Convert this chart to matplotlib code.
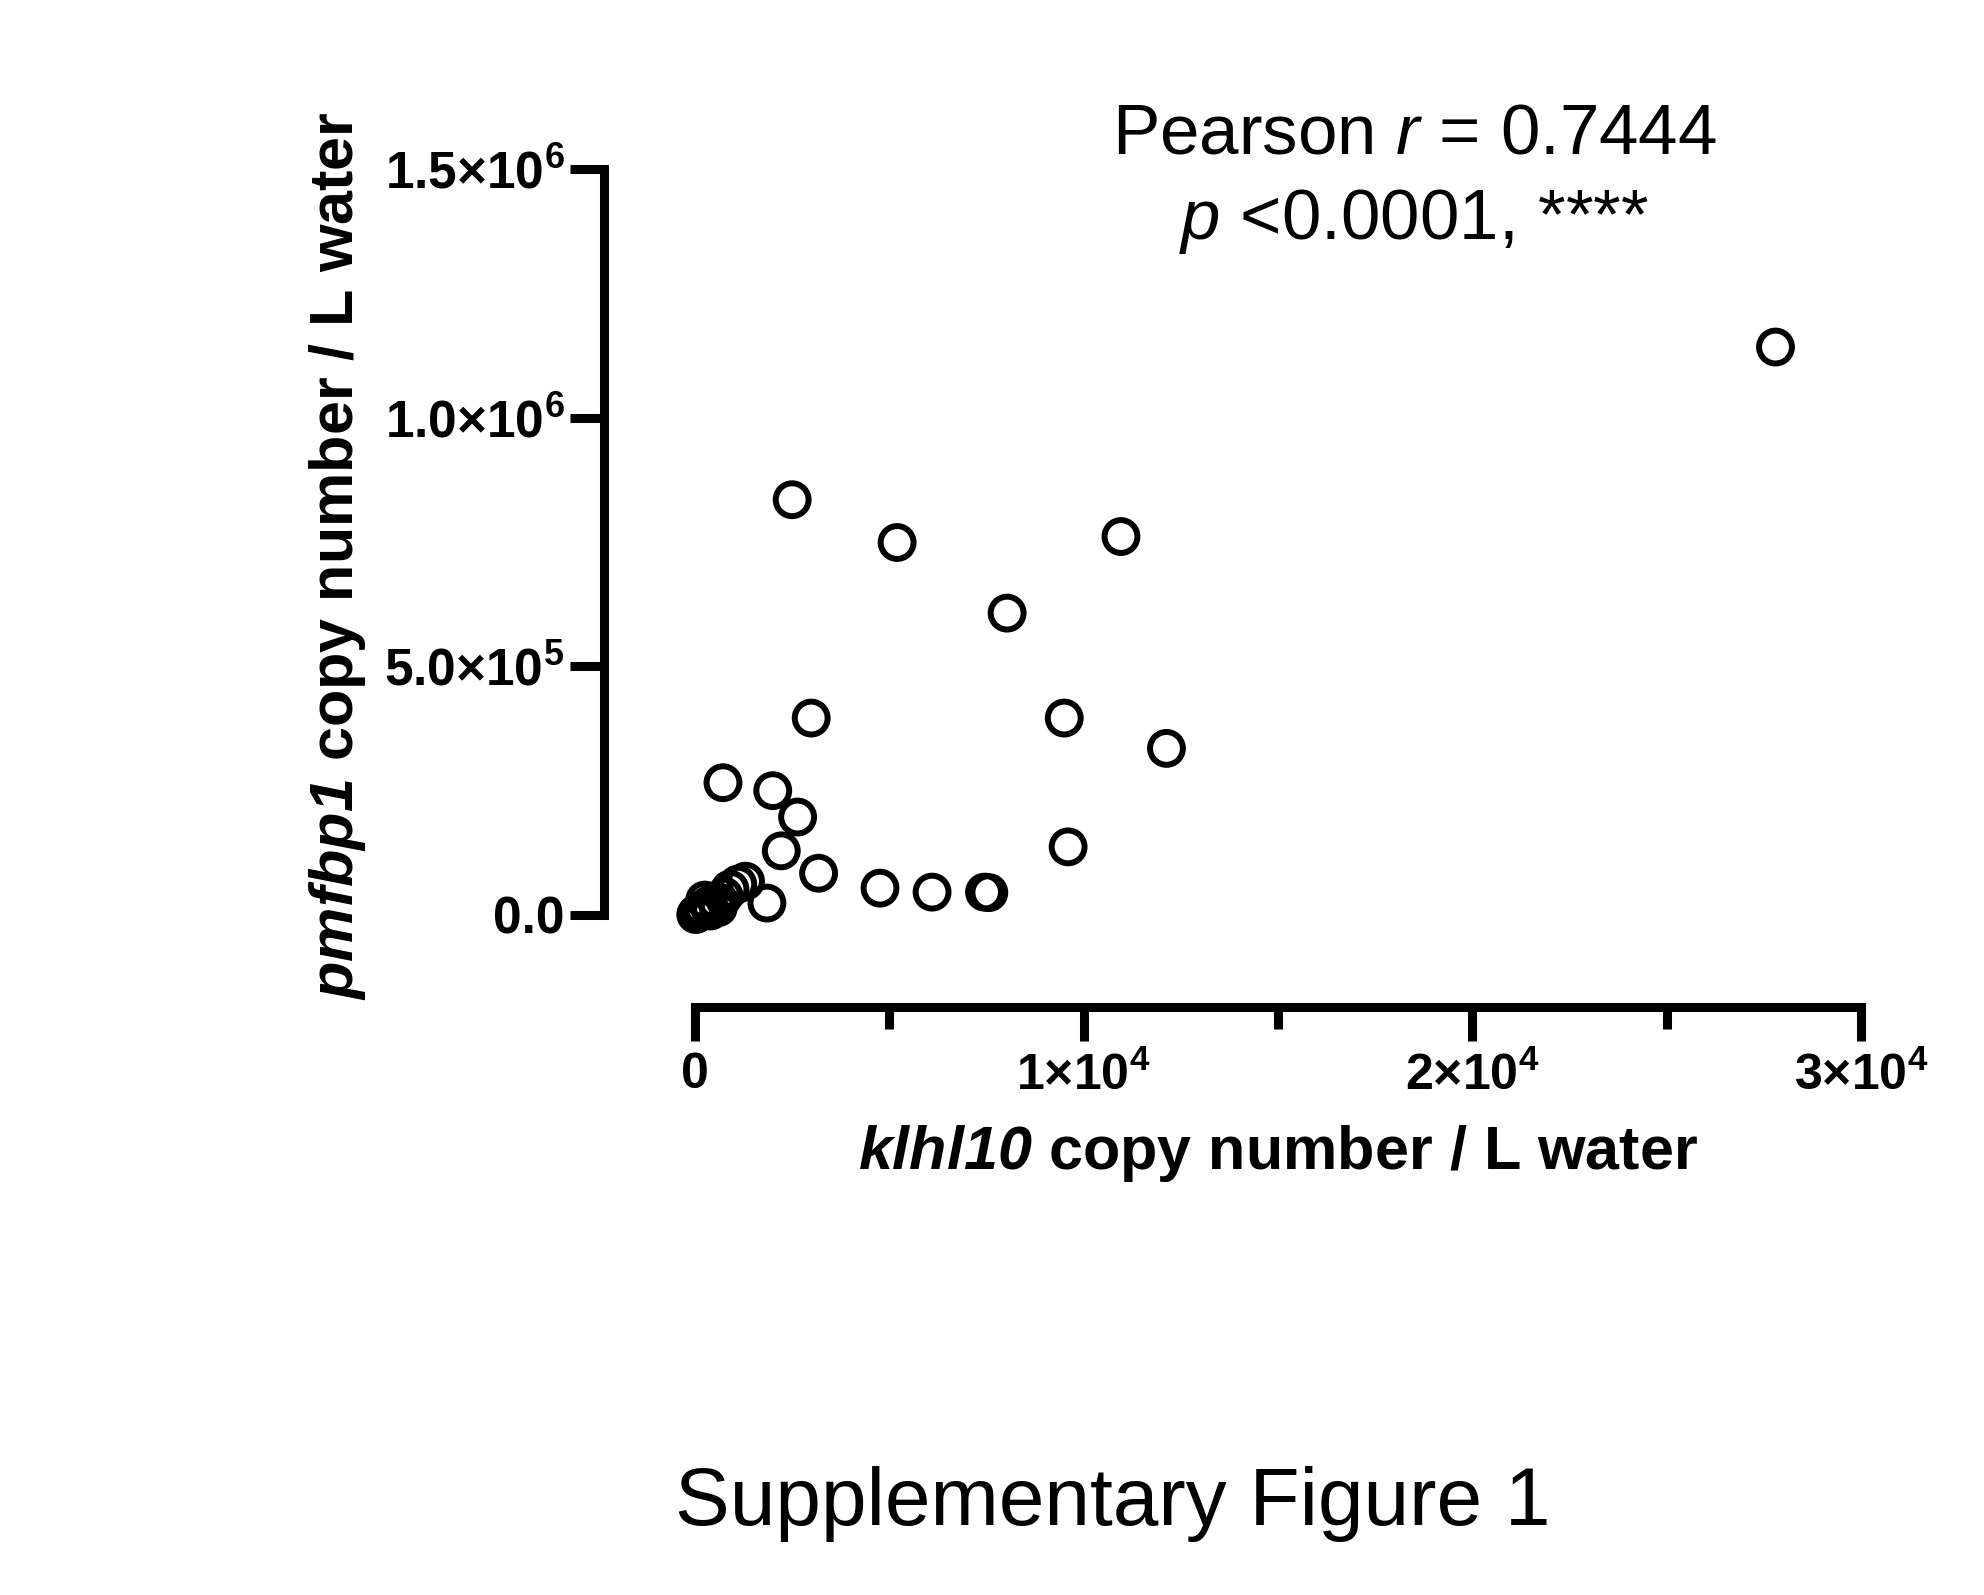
import matplotlib
matplotlib.use("Agg")
import matplotlib.pyplot as plt
from matplotlib.ticker import MultipleLocator, FixedLocator

# ---- data ----
klhl10 = [27800, 2500, 5200, 10960, 8030, 2990, 9500, 12130, 720, 2000,
          2640, 2220, 3180, 9600, 4760, 6100, 7450, 7560, 1850,
          1300, 1100, 900, 750, 550, 350, 200, 100, 50, 20, 400, 600, 250]
pmfbp1 = [1142000, 835000, 749000, 761000, 607000, 396000, 396000, 335000, 266000, 250000,
          197000, 129000, 84000, 137000, 54000, 46000, 46000, 45000, 24000,
          68000, 62000, 52000, 38000, 28000, 20000, 12000, 6000, 3000, 1000, 8000, 15000, 30000]

x_ticks = [0, 10000, 20000, 30000]
x_ticklabels = ["0", r"1×10$^{\mathregular{4}}$", r"2×10$^{\mathregular{4}}$", r"3×10$^{\mathregular{4}}$"]
y_ticks = [0, 500000, 1000000, 1500000]
y_ticklabels = ["0.0", r"5.0×10$^{\mathregular{5}}$", r"1.0×10$^{\mathregular{6}}$", r"1.5×10$^{\mathregular{6}}$"]

plt.rcParams['mathtext.fontset'] = 'custom'
plt.rcParams['mathtext.rm'] = 'Liberation Sans:bold:italic'
plt.rcParams['mathtext.it'] = 'Liberation Sans:bold:italic'
plt.rcParams['mathtext.bf'] = 'Liberation Sans:bold'
plt.rcParams['mathtext.sf'] = 'Liberation Sans:italic'

W, H = 1984, 1595
fig = plt.figure(figsize=(W / 100, H / 100), dpi=100)
ax = fig.add_axes([695 / W, 1 - 915 / H, (1861 - 695) / W, (915 - 169) / H])

ax.scatter(klhl10, pmfbp1, s=560, facecolors='none', edgecolors='black',
           linewidths=4.3, clip_on=False, zorder=3)

ax.set_xlim(0, 30000)
ax.set_ylim(0, 1500000)

for s in ['top', 'right']:
    ax.spines[s].set_visible(False)
px = 72 / 100
ax.spines['left'].set_position(('outward', 91 * px))
ax.spines['bottom'].set_position(('outward', 92 * px))
for s in ['left', 'bottom']:
    ax.spines[s].set_linewidth(6.5)
    ax.spines[s].set_capstyle('projecting')

ax.xaxis.set_major_locator(FixedLocator(x_ticks))
ax.xaxis.set_minor_locator(MultipleLocator(5000))
ax.yaxis.set_major_locator(FixedLocator(y_ticks))
ax.set_xticklabels(x_ticklabels, fontfamily='Liberation Sans',
                   fontweight='bold', fontsize=36)
ax.set_yticklabels(y_ticklabels, fontfamily='Liberation Sans', fontweight='bold', fontsize=37)
ax.tick_params(axis='x', which='major', length=34 * px, width=6.5, pad=8, direction='out')
ax.tick_params(axis='x', which='minor', length=22 * px, width=6.5, direction='out')
ax.tick_params(axis='y', which='major', length=34 * px, width=6.5, pad=4, direction='out')

ax.set_xlabel(r'$\mathit{klhl10}$ copy number / L water', fontfamily='Liberation Sans',
              fontweight='bold', fontsize=44)
ax.xaxis.set_label_coords(0.5, (915 - 1153) / 746)
ax.xaxis.label.set_va('center')
ax.set_ylabel(r'$\mathit{pmfbp1}$ copy number / L water', fontfamily='Liberation Sans',
              fontweight='bold', fontsize=44)
ax.yaxis.set_label_coords((337 - 695) / 1166, (915 - 556) / 746)
ax.yaxis.label.set_va('center')

fig.text(1414 / W, 1 - 154 / H, r'Pearson $\mathsf{r}$ = 0.7444', fontfamily='Liberation Sans',
         fontsize=51, ha='center', va='baseline')
fig.text(1414 / W, 1 - 239 / H, r'$\mathsf{p}$ <0.0001, ****', fontfamily='Liberation Sans',
         fontsize=51, ha='center', va='baseline')

fig.text(1113 / W, 1 - 1504 / H, 'Supplementary Figure 1', fontfamily='Liberation Sans',
         fontsize=59, ha='center', va='center')

fig.savefig('out.png', dpi=100, facecolor='white')
